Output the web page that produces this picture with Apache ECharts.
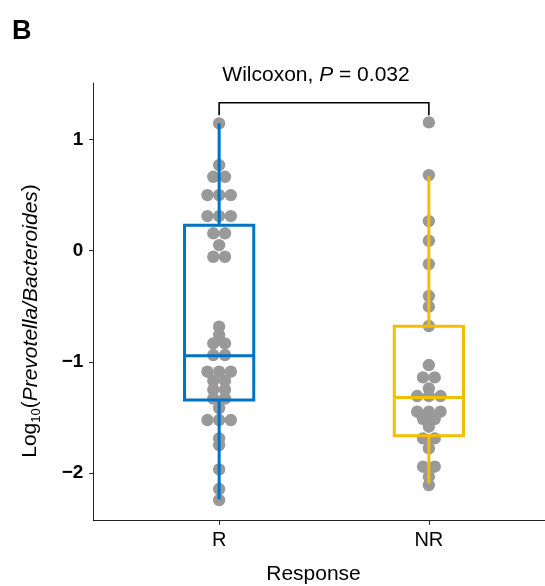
<!DOCTYPE html>
<html><head><meta charset="utf-8">
<script src="https://cdn.jsdelivr.net/npm/echarts@6/dist/echarts.min.js"></script>
<style>html,body{margin:0;padding:0;background:#fff}#c{width:545px;height:586px}</style>
</head><body><div id="c"></div>
<script>
// ---------- data ----------
const categories = ['R', 'NR'];
const yTicks = [-2, -1, 0, 1];
// dot values (dotplot bin centres), one entry per sample
const valuesR = [1.147, 0.771, 0.666, 0.666, 0.501, 0.501, 0.501, 0.312, 0.312, 0.312,
  0.157, 0.157, 0.051, -0.054, -0.054, -0.684, -0.759, -0.834, -0.834, -0.939, -0.939,
  -1.089, -1.089, -1.089, -1.17, -1.17, -1.25, -1.25, -1.33, -1.33, -1.416,
  -1.524, -1.524, -1.524, -1.689, -1.749, -1.968, -2.145, -2.244];
const valuesNR = [1.156, 0.681, 0.267, 0.090, -0.120, -0.408, -0.504, -0.678,
  -1.029, -1.14, -1.14, -1.239, -1.308, -1.308, -1.308, -1.449, -1.449, -1.449,
  -1.515, -1.515, -1.584, -1.689, -1.689, -1.779, -1.944, -1.944, -2.034, -2.109];
// box statistics: [lower whisker, Q1, median, Q3, upper whisker]
const boxR = [-2.238, -1.344, -0.945, 0.229, 1.147];
const boxNR = [-2.094, -1.665, -1.32, -0.68, 0.67];
// significance bracket: [tip level, bar level]
const bracketLevels = [1.22, 1.332];
const testName = 'Wilcoxon';
const pValue = '0.032';

// ---------- styling constants ----------
const boxColors = ['#0073C2', '#EFC000'];
const DOT_COLOR = '#999999';
const DOT_R = 6.2;
const DOT_STEP = 11.7;
const BOX_W = 0.33;
const FONT = '"Liberation Sans", Arial, Helvetica, sans-serif';

// group dots into stacked rows (centered stacking)
function stackRows(vals, catPos) {
  const counts = {}, seen = {};
  vals.forEach(v => { counts[v] = (counts[v] || 0) + 1; });
  return vals.map(v => {
    const k = seen[v] || 0; seen[v] = k + 1;
    return [catPos, v, k, counts[v]];
  });
}
const dotData = stackRows(valuesR, 1).concat(stackRows(valuesNR, 2));
const boxData = [[1].concat(boxR), [2].concat(boxNR)];

const chart = echarts.init(document.getElementById('c'), null, {renderer: 'canvas'});
const minus = v => String(v).replace('-', '\u2212');

chart.setOption({
  animation: false,
  backgroundColor: '#fff',
  grid: {left: 93.3, right: -9.7, top: 83, bottom: 65.3, containLabel: false, outerBoundsMode: 'none'},
  xAxis: {
    type: 'value', min: 0.4, max: 2.6,
    axisLine: {show: true, onZero: false, lineStyle: {color: '#222', width: 1}},
    axisTick: {show: true, customValues: [1, 2], length: 4, lineStyle: {color: '#222'}},
    axisLabel: {customValues: [1, 2], formatter: v => categories[Math.round(v) - 1] || '',
      fontSize: 20, color: '#000', margin: 10, fontFamily: FONT},
    splitLine: {show: false}
  },
  yAxis: {
    type: 'value', min: -2.43, max: 1.51,
    axisLine: {show: true, onZero: false, lineStyle: {color: '#222', width: 1}},
    axisTick: {show: true, customValues: yTicks, length: 4, lineStyle: {color: '#222'}},
    axisLabel: {customValues: yTicks, formatter: minus, fontSize: 19, fontWeight: 'bold',
      color: '#000', margin: 10, fontFamily: FONT},
    splitLine: {show: false}
  },
  graphic: [
    {type: 'text', x: 12, y: 32, style: {text: 'B', fontSize: 27, fontWeight: 'bold', fontFamily: FONT,
      fill: '#000', textAlign: 'left', textVerticalAlign: 'middle'}},
    {type: 'text', x: 316, y: 75, style: {text: '{n|' + testName + ', }{i|P}{n| = ' + pValue + '}',
      fontSize: 21, fontFamily: FONT, fill: '#000', textAlign: 'center', textVerticalAlign: 'middle',
      rich: {n: {fontSize: 21, fontFamily: FONT, fill: '#000'}, i: {fontSize: 21, fontFamily: FONT, fontStyle: 'italic', fill: '#000'}}}},
    {type: 'text', x: 313.5, y: 574.5, style: {text: 'Response', fontSize: 21, fontFamily: FONT,
      fill: '#000', textAlign: 'center', textVerticalAlign: 'middle'}},
    {type: 'text', x: 30.7, y: 321, rotation: Math.PI / 2,
      style: {text: '{n|Log}{s|10}{n|(}{i|Prevotella/Bacteroides}{n|)}', fontSize: 21, fontFamily: FONT,
        fill: '#000', textAlign: 'center', textVerticalAlign: 'middle',
        rich: {
          n: {fontSize: 21, fontFamily: FONT, lineHeight: 24, fill: '#000'},
          i: {fontSize: 21, fontFamily: FONT, fontStyle: 'italic', lineHeight: 24, fill: '#000'},
          s: {fontSize: 13, fontFamily: FONT, verticalAlign: 'bottom', lineHeight: 24, fill: '#000'}
        }}}
  ],
  series: [
    {
      type: 'custom', name: 'dots', z: 2, clip: false,
      data: dotData,
      renderItem: (params, api) => {
        const p = api.coord([api.value(0), api.value(1)]);
        const k = api.value(2), n = api.value(3);
        return {type: 'circle', shape: {cx: p[0] + (k - (n - 1) / 2) * DOT_STEP, cy: p[1], r: DOT_R},
          style: {fill: DOT_COLOR}};
      }
    },
    {
      type: 'custom', name: 'boxes', z: 3, clip: false,
      data: boxData,
      renderItem: (params, api) => {
        const x = api.value(0);
        const col = boxColors[params.dataIndex];
        const hw = api.size([BOX_W, 0])[0] / 2;
        const pLow = api.coord([x, api.value(1)]);
        const pQ1 = api.coord([x, api.value(2)]);
        const pMed = api.coord([x, api.value(3)]);
        const pQ3 = api.coord([x, api.value(4)]);
        const pHigh = api.coord([x, api.value(5)]);
        const ls = {stroke: col, lineWidth: 3, fill: 'none'};
        return {type: 'group', children: [
          {type: 'line', shape: {x1: pQ3[0], y1: pQ3[1], x2: pHigh[0], y2: pHigh[1]}, style: ls},
          {type: 'line', shape: {x1: pQ1[0], y1: pQ1[1], x2: pLow[0], y2: pLow[1]}, style: ls},
          {type: 'rect', shape: {x: pQ3[0] - hw, y: pQ3[1], width: 2 * hw, height: pQ1[1] - pQ3[1]}, style: ls},
          {type: 'line', shape: {x1: pMed[0] - hw, y1: pMed[1], x2: pMed[0] + hw, y2: pMed[1]}, style: ls}
        ]};
      }
    },
    {
      type: 'custom', name: 'bracket', z: 4, clip: false,
      data: [[1, 2, bracketLevels[0], bracketLevels[1]]],
      renderItem: (params, api) => {
        const a = api.coord([api.value(0), api.value(2)]);
        const b = api.coord([api.value(0), api.value(3)]);
        const c = api.coord([api.value(1), api.value(3)]);
        const d = api.coord([api.value(1), api.value(2)]);
        return {type: 'polyline', shape: {points: [a, b, c, d]},
          style: {stroke: '#000', lineWidth: 1.6, fill: 'none'}};
      }
    }
  ]
});
</script></body></html>
